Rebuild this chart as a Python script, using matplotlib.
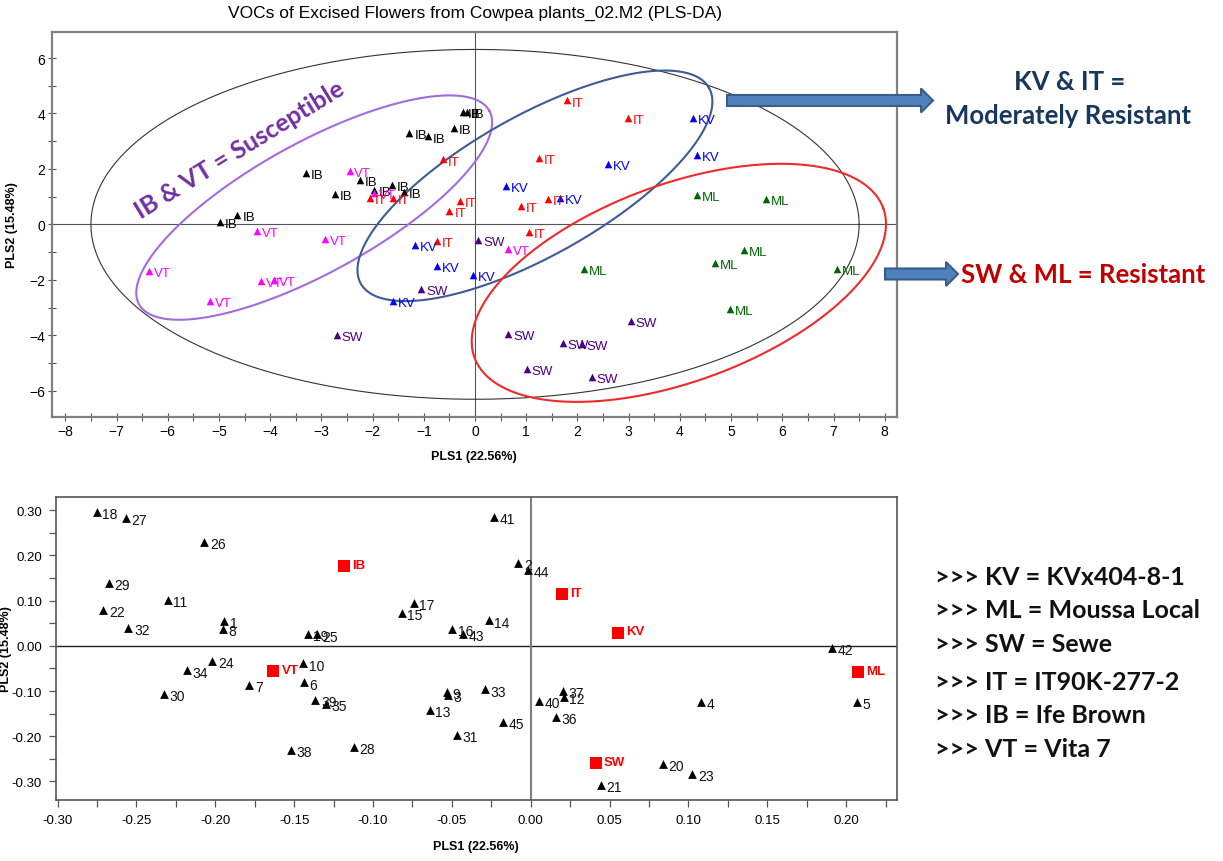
import numpy as np
import matplotlib
matplotlib.use('Agg')
import matplotlib.pyplot as plt
from matplotlib.patches import FancyArrow
from matplotlib.ticker import MultipleLocator, FormatStrFormatter

# ---------------- data: scores plot (top) ----------------
ib_x = [-0.24, -0.16, -1.28, -0.92, -0.41, -3.31, -2.24, -1.62, -1.97, -1.39, -2.74, -4.64, -4.98]
ib_y = [4.07, 4.07, 3.31, 3.17, 3.47, 1.85, 1.61, 1.41, 1.24, 1.17, 1.08, 0.33, 0.07]
vt_x = [-2.45, -1.98, -4.26, -2.92, -6.37, -4.18, -3.92, -5.18, 0.65]
vt_y = [1.92, 1.12, -0.25, -0.52, -1.68, -2.03, -1.99, -2.76, -0.90]
it_x = [1.79, 2.99, 1.25, -0.62, -2.06, -1.61, -0.29, -0.50, 0.89, 1.42, 1.06, -0.75]
it_y = [4.47, 3.85, 2.39, 2.34, 0.95, 0.95, 0.83, 0.48, 0.66, 0.93, -0.27, -0.61]
kv_x = [4.25, 4.33, 2.60, 0.60, 1.65, -1.17, -0.75, -0.03, -1.61]
kv_y = [3.83, 2.49, 2.19, 1.37, 0.96, -0.74, -1.50, -1.83, -2.76]
ml_x = [4.33, 5.69, 2.13, 5.25, 4.69, 7.06, 4.97]
ml_y = [1.05, 0.93, -1.60, -0.94, -1.39, -1.60, -3.06]
sw_x = [0.065, -1.05, -2.70, 3.04, 0.65, 1.71, 2.08, 1.01, 2.28]
sw_y = [-0.55, -2.32, -4.00, -3.50, -3.94, -4.29, -4.32, -5.21, -5.50]

group_names = ['IB', 'VT', 'IT', 'KV', 'ML', 'SW']
group_colors = ['#000000', '#FF00FF', '#FF0000', '#0000FF', '#006400', '#4B0082']

# ---------------- data: loadings plot (bottom) ----------------
var_ids = list(range(1, 46))
var_x = [-0.1943, -0.0078, -0.0526, 0.108, 0.2067, -0.1438, -0.1785, -0.1954, -0.0532, -0.1443,
         -0.2303, 0.021, -0.0642, -0.0267, -0.0818, -0.0498, -0.0743, -0.2753, -0.1413, 0.0837,
         0.0446, -0.2709, 0.1024, -0.2019, -0.1356, -0.207, -0.2568, -0.1121, -0.2677, -0.2324,
         -0.0467, -0.2551, -0.029, -0.2179, -0.1298, 0.0158, 0.0204, -0.1522, -0.1365, 0.005,
         -0.0233, 0.191, -0.0427, -0.0017, -0.0175]
var_y = [0.055, 0.183, -0.108, -0.124, -0.124, -0.081, -0.0876, 0.0375, -0.102, -0.039,
         0.1015, -0.113, -0.142, 0.056, 0.073, 0.037, 0.0956, 0.295, 0.0265, -0.262,
         -0.308, 0.0795, -0.2826, -0.033, 0.025, 0.229, 0.282, -0.2245, 0.138, -0.106,
         -0.198, 0.039, -0.0965, -0.0545, -0.1295, -0.158, -0.099, -0.231, -0.12, -0.121,
         0.285, -0.005, 0.0265, 0.167, -0.168]
class_names = ['IB', 'VT', 'IT', 'KV', 'ML', 'SW']
class_x = [-0.1184, -0.1632, 0.0198, 0.0553, 0.2076, 0.0412]
class_y = [0.176, -0.056, 0.114, 0.0287, -0.059, -0.26]

legend_lines = [">>> KV = KVx404-8-1", ">>> ML = Moussa Local", ">>> SW = Sewe",
                ">>> IT = IT90K-277-2", ">>> IB = Ife Brown", ">>> VT = Vita 7"]

W, H = 1223, 862
fig = plt.figure(figsize=(W / 100, H / 100), dpi=100)
plt.rcParams['font.family'] = ['Liberation Sans', 'DejaVu Sans']

NARROW = ['Liberation Sans Narrow', 'Liberation Sans', 'DejaVu Sans']
CAL = ['Lato', 'DejaVu Sans']

# ---------------- top axes ----------------
ax1 = fig.add_axes([52 / W, 1 - 418 / H, (896.5 - 52) / W, (418 - 32.7) / H])
ax1.set_xlim(-8.26, 8.23)
ax1.set_ylim(-6.95, 6.95)
ax1.axhline(0, color='#555555', lw=0.8, zorder=1)
ax1.axvline(0, color='#555555', lw=0.8, zorder=1)

t = np.linspace(0, 2 * np.pi, 400)
def draw_ellipse(ax, c, u, v, **kw):
    ax.plot(c[0] + u[0] * np.cos(t) + v[0] * np.sin(t),
            c[1] + u[1] * np.cos(t) + v[1] * np.sin(t), **kw)

draw_ellipse(ax1, (0, 0), (7.5, 0), (0, 6.31), color='#333333', lw=0.8, zorder=2)
draw_ellipse(ax1, (-3.14, 0.605), (3.42, 3.49), (0.612, -2.05), color='#A36BE0', lw=1.5, zorder=2)
draw_ellipse(ax1, (1.17, 1.39), (3.40, 3.53), (0.669, -2.20), color='#3D5A99', lw=1.5, zorder=2)
draw_ellipse(ax1, (3.98, -2.11), (3.99, 2.70), (0.662, -3.34), color='#EE2A2A', lw=1.5, zorder=2)

xs_all = [ib_x, vt_x, it_x, kv_x, ml_x, sw_x]
ys_all = [ib_y, vt_y, it_y, kv_y, ml_y, sw_y]
for name, col, xs, ys in zip(group_names, group_colors, xs_all, ys_all):
    ax1.scatter(xs, ys, marker='^', s=30, color=col, zorder=4, linewidths=0)
    for x, y in zip(xs, ys):
        ax1.annotate(name, (x, y), xytext=(3.5, -1.5), textcoords='offset points',
                     va='center', ha='left', color=col, fontsize=9.5, zorder=5)

ax1.xaxis.set_major_locator(MultipleLocator(1))
ax1.xaxis.set_minor_locator(MultipleLocator(0.5))
ax1.yaxis.set_major_locator(MultipleLocator(2))
ax1.yaxis.set_minor_locator(MultipleLocator(1))
ax1.tick_params(which='both', direction='inout', length=6, width=0.8, color='#555555',
                labelsize=10, pad=2)
for lab in ax1.get_xticklabels() + ax1.get_yticklabels():
    lab.set_family(NARROW)
for s in ax1.spines.values():
    s.set_color('#808080')
    s.set_linewidth(1.6)
ax1.set_xlabel('PLS1 (22.56%)', fontsize=9, fontweight='bold', labelpad=9)
ax1.set_ylabel('PLS2 (15.48%)', fontsize=9, fontweight='bold', labelpad=8)

# ---------------- bottom axes ----------------
ax2 = fig.add_axes([56 / W, 1 - 801 / H, (896.7 - 56) / W, (801 - 498) / H])
ax2.set_xlim(-0.301, 0.232)
ax2.set_ylim(-0.341, 0.329)
ax2.axhline(0, color='#222222', lw=1.0, zorder=1)
ax2.axvline(0, color='#808080', lw=1.5, zorder=1)
ax2.scatter(var_x, var_y, marker='^', s=40, color='black', zorder=4, linewidths=0)
for i, x, y in zip(var_ids, var_x, var_y):
    ax2.annotate(str(i), (x, y), xytext=(4, -1.5), textcoords='offset points',
                 va='center', ha='left', color='#111111', fontsize=10, zorder=5)
ax2.scatter(class_x, class_y, marker='s', s=80, color='#FF0000', zorder=4, linewidths=0)
for n, x, y in zip(class_names, class_x, class_y):
    ax2.annotate(n, (x, y), xytext=(6, 1), textcoords='offset points',
                 va='center', ha='left', color='#FF0000', fontsize=9.5,
                 fontweight='bold', zorder=5)
ax2.xaxis.set_major_locator(MultipleLocator(0.05))
ax2.xaxis.set_minor_locator(MultipleLocator(0.025))
ax2.yaxis.set_major_locator(MultipleLocator(0.1))
ax2.yaxis.set_minor_locator(MultipleLocator(0.05))
ax2.xaxis.set_major_formatter(FormatStrFormatter('%.2f'))
ax2.yaxis.set_major_formatter(FormatStrFormatter('%.2f'))
ax2.tick_params(which='both', direction='out', length=5, width=0.9, color='#555555',
                labelsize=9.5, pad=5)
for s in ax2.spines.values():
    s.set_color('#555555')
    s.set_linewidth(1.2)
ax2.set_xlabel('PLS1 (22.56%)', fontsize=9, fontweight='bold', labelpad=10)
ax2.set_ylabel('PLS2 (15.48%)', fontsize=9, fontweight='bold', labelpad=0)

# ---------------- overlay (annotations) ----------------
ov = fig.add_axes([0, 0, 1, 1])
ov.set_xlim(0, W)
ov.set_ylim(H, 0)
ov.axis('off')
ov.patch.set_alpha(0)

ov.text(475, 13, 'VOCs of Excised Flowers from Cowpea plants_02.M2 (PLS-DA)',
        ha='center', va='center', fontsize=12.5, family=NARROW)

for (x0, y0, dx) in [(727, 101.5, 206), (885, 275, 73)]:
    ov.add_patch(FancyArrow(x0, y0, dx, 0, width=11, head_width=24, head_length=12,
                            length_includes_head=True, facecolor='#4F81BD',
                            edgecolor='#385D8A', lw=1.5, zorder=6))

ov.text(1070, 82, 'KV & IT =', ha='center', va='center', fontsize=18.5,
        fontweight='bold', color='#17375E', family=CAL)
ov.text(1068, 116, 'Moderately Resistant', ha='center', va='center', fontsize=18.5,
        fontweight='bold', color='#17375E', family=CAL)
ov.text(1083, 275, 'SW & ML = Resistant', ha='center', va='center', fontsize=18.5,
        fontweight='bold', color='#C00000', family=CAL)
ov.text(240, 150, 'IB & VT = Susceptible', ha='center', va='center', fontsize=18,
        fontweight='bold', color='#7030A0', rotation=31.6, rotation_mode='anchor',
        family=CAL)

for k, line in enumerate(legend_lines):
    ov.text(935, [578, 611, 645, 683, 716, 750][k], line, ha='left', va='center',
            fontsize=18, fontweight='bold', color='#111111', family=CAL)

fig.savefig('out.png', dpi=100)
